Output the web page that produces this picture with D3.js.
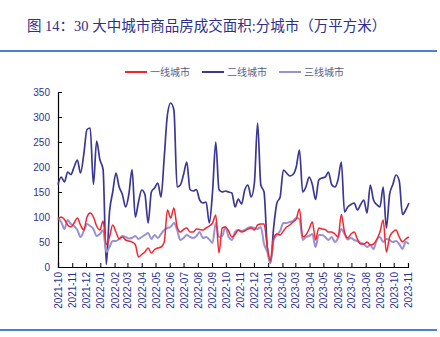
<!DOCTYPE html>
<html><head><meta charset="utf-8">
<script src="https://cdn.jsdelivr.net/npm/d3@7"></script>
<style>
html,body{margin:0;padding:0;background:#fff;}
svg{display:block;}
</style></head>
<body>
<svg id="chart" width="440" height="337"></svg>
<script>
const title = "图 14：30 大中城市商品房成交面积:分城市（万平方米）";
const seriesNames = ["一线城市", "二线城市", "三线城市"];
const seriesColors = ["#f5252f", "#3a3795", "#9892d2"];
const startDate = "2021-10-01";
const endDate = "2023-11-01";
const yTicks = [0, 50, 100, 150, 200, 250, 300, 350];

// weekly values, first week starting 2021-10-01
const tier1 = [95,100,95,84,80,88,98,84,74,100,108,100,82,74,92,45,60,84,70,56,
  60,54,52,50,45,20,25,30,38,28,35,38,40,50,114,98,118,80,70,75,
  78,70,70,76,75,74,78,82,88,104,28,78,80,72,60,65,74,70,72,76,
  78,74,84,86,86,40,12,58,66,64,72,80,84,90,96,116,60,64,76,90,
  54,78,76,75,70,70,66,60,105,70,58,66,70,56,46,46,50,44,46,55,
  70,94,30,60,70,74,60,50,56,60];
const tier2 = [165,180,170,190,185,200,214,188,225,275,278,165,252,215,195,5,110,150,188,160,
  145,120,145,195,100,130,154,145,88,150,158,168,140,220,305,328,314,160,164,185,
  210,155,152,155,134,128,130,88,150,250,155,150,152,150,148,120,136,126,154,164,
  140,168,288,164,150,40,8,80,128,140,194,188,182,185,200,234,150,160,180,165,
  135,174,178,180,190,165,160,175,210,110,120,125,128,114,125,134,108,164,134,125,
  120,160,78,145,165,184,172,105,114,128];
const tier3 = [98,90,76,94,86,82,74,60,72,86,82,76,62,66,74,30,40,52,52,56,
  62,60,57,58,62,56,60,64,68,56,64,58,66,74,78,80,88,74,54,58,
  64,60,58,62,70,58,60,55,48,88,60,62,80,60,54,70,74,72,74,78,
  80,78,76,80,46,30,8,54,64,72,88,88,90,92,98,96,54,60,62,66,
  40,64,64,60,54,60,50,58,76,66,55,58,54,52,48,46,40,44,36,54,
  60,50,56,54,50,52,46,36,50,46];

const svg = d3.select("#chart");

// frame lines
const frameColor = "#4a7fd4";
svg.append("line").attr("x1", 0).attr("x2", 437).attr("y1", 51).attr("y2", 51)
  .attr("stroke", frameColor).attr("stroke-width", 2);
svg.append("line").attr("x1", 0).attr("x2", 437).attr("y1", 330).attr("y2", 330)
  .attr("stroke", frameColor).attr("stroke-width", 2);

// title
svg.append("text").attr("x", 27).attr("y", 31)
  .attr("font-family", "'Liberation Serif','Noto Sans CJK SC',serif")
  .attr("font-size", 14.5).attr("fill", "#2e2f8c")
  .text(title);

const parse = d3.timeParse("%Y-%m-%d");
const t0 = parse(startDate), t1 = parse(endDate);
const dates = tier1.map((d, i) => d3.timeDay.offset(t0, i * 7));

const x = d3.scaleTime().domain([t0, t1]).range([58, 408]);
const y = d3.scaleLinear().domain([0, 350]).range([267, 92]);

const axisColor = "#2e3192";
// y axis
const gy = svg.append("g").attr("transform", `translate(${x.range()[0]},0)`)
  .call(d3.axisLeft(y).tickValues(yTicks).tickSize(-4).tickPadding(8));
gy.select(".domain").attr("stroke", "#000").attr("stroke-width", 1.2);
gy.selectAll(".tick line").attr("stroke", "#000");
gy.selectAll("text").attr("font-family", "'Liberation Sans',Arial,sans-serif")
  .attr("font-size", 10).attr("fill", axisColor);

// x axis
const gx = svg.append("g").attr("transform", `translate(0,${y(0)})`)
  .call(d3.axisBottom(x).ticks(d3.timeMonth.every(1)).tickFormat(d3.timeFormat("%Y-%m")).tickSize(-4));
gx.select(".domain").attr("stroke", "#000").attr("stroke-width", 1.2);
gx.selectAll(".tick line").attr("stroke", "#000");
gx.selectAll("text").attr("font-family", "'Liberation Sans',Arial,sans-serif")
  .attr("font-size", 10).attr("fill", axisColor)
  .attr("transform", "rotate(-90)").attr("text-anchor", "end")
  .attr("x", -5).attr("y", 0).attr("dy", "0.35em");

// lines
const line = d3.line().x((d, i) => x(dates[i])).y(d => y(d)).curve(d3.curveMonotoneX);
const all = [tier1, tier2, tier3];
const widths = [1.5, 1.7, 2];
[1, 2, 0].forEach(k => {
  svg.append("path").datum(all[k]).attr("d", line)
    .attr("fill", "none").attr("stroke", seriesColors[k])
    .attr("stroke-width", widths[k]).attr("stroke-linejoin", "round");
});

// legend
const legendX = [125, 202, 279];
const lg = svg.append("g");
seriesNames.forEach((n, k) => {
  lg.append("line").attr("x1", legendX[k]).attr("x2", legendX[k] + 22)
    .attr("y1", 72).attr("y2", 72).attr("stroke", seriesColors[k]).attr("stroke-width", 2);
  lg.append("text").attr("x", legendX[k] + 25).attr("y", 72).attr("dy", "0.35em")
    .attr("font-family", "'Noto Sans CJK SC',sans-serif").attr("font-size", 10)
    .attr("fill", "#5b5d86").text(n);
});
</script>
</body></html>
